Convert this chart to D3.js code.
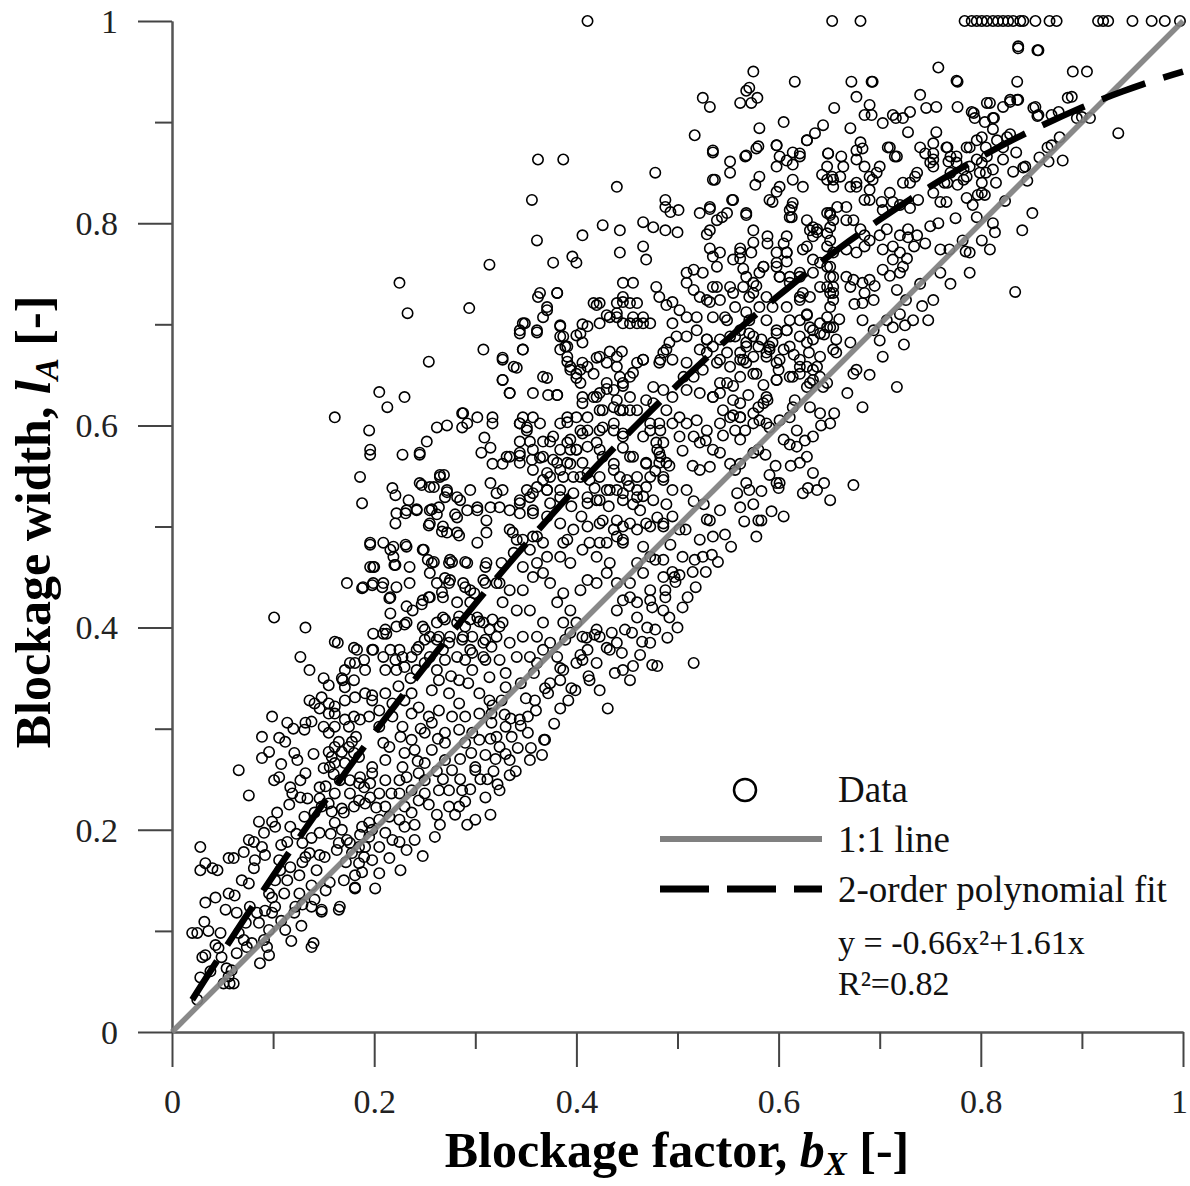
<!DOCTYPE html>
<html>
<head>
<meta charset="utf-8">
<script src="https://cdnjs.cloudflare.com/ajax/libs/d3/7.8.5/d3.min.js"></script>
<style>
  body { margin: 0; background: #fff; }
  svg { display: block; }
  .tick text { font-family: "Liberation Serif", "Times New Roman", serif; }
</style>
</head>
<body>
<div id="chart"></div>
<script>
var lowBand = [
 [0.020,0.098],[0.025,0.098],[0.032,0.109],[0.030,0.074],[0.033,0.076],[0.028,0.054],[0.025,0.032],[0.043,0.086],[0.046,0.083],[0.049,0.074],
 [0.051,0.048],[0.057,0.048],[0.054,0.063],[0.028,0.160],[0.033,0.167],[0.028,0.183],[0.040,0.162],[0.045,0.160],[0.053,0.121],[0.056,0.137],
 [0.062,0.135],[0.033,0.128],[0.043,0.133],[0.076,0.147],[0.071,0.178],[0.056,0.172],[0.061,0.172],[0.076,0.190],[0.081,0.188],[0.082,0.170],
 [0.081,0.162],[0.077,0.124],[0.084,0.118],[0.066,0.098],[0.071,0.091],[0.074,0.084],[0.079,0.088],[0.086,0.108],[0.087,0.068],[0.059,0.061],
 [0.056,0.055],[0.061,0.048],[0.096,0.101],[0.094,0.084],[0.096,0.076],[0.091,0.091],[0.099,0.118],[0.102,0.124],[0.112,0.101],[0.111,0.137],
 [0.114,0.150],[0.102,0.150],[0.099,0.133],[0.096,0.137],[0.106,0.170],[0.107,0.160],[0.117,0.163],[0.129,0.168],[0.126,0.137],[0.122,0.124],
 [0.121,0.118],[0.129,0.126],[0.138,0.124],[0.148,0.119],[0.141,0.131],[0.140,0.088],[0.089,0.183],[0.092,0.175],[0.099,0.208],[0.086,0.208],
 [0.091,0.197],[0.104,0.217],[0.116,0.225],[0.102,0.203],[0.117,0.203],[0.114,0.188],[0.129,0.187],[0.132,0.173],[0.136,0.177],[0.146,0.175],
 [0.138,0.192],[0.119,0.236],[0.134,0.231],[0.131,0.213],[0.146,0.197],[0.141,0.217],[0.148,0.223],[0.076,0.234],[0.066,0.259],[0.089,0.292],
 [0.096,0.277],[0.089,0.271],[0.099,0.312],[0.106,0.291],[0.112,0.287],[0.114,0.306],[0.121,0.276],[0.124,0.269],[0.101,0.249],[0.106,0.252],
 [0.117,0.242],[0.127,0.249],[0.132,0.256],[0.127,0.232],[0.132,0.306],[0.138,0.307],[0.136,0.328],[0.141,0.325],[0.131,0.299],[0.136,0.358],
 [0.127,0.371],[0.132,0.400],[0.101,0.410],[0.150,0.350],[0.155,0.315],[0.146,0.320],[0.146,0.242],[0.146,0.231],[0.150,0.261],[0.156,0.262],
 [0.161,0.266],[0.155,0.277],[0.161,0.282],[0.165,0.287],[0.158,0.272],[0.168,0.277],[0.175,0.282],[0.178,0.287],[0.180,0.276],[0.171,0.266],
 [0.166,0.249],[0.176,0.249],[0.185,0.246],[0.190,0.242],[0.196,0.246],[0.161,0.236],[0.155,0.226],[0.158,0.218],[0.168,0.221],[0.170,0.217],
 [0.180,0.223],[0.185,0.229],[0.191,0.226],[0.196,0.232],[0.161,0.207],[0.168,0.200],[0.173,0.190],[0.165,0.187],[0.163,0.180],[0.176,0.187],
 [0.185,0.183],[0.195,0.193],[0.195,0.207],[0.188,0.203],[0.190,0.173],[0.188,0.158],[0.181,0.155],[0.181,0.142],[0.166,0.124],[0.151,0.173],
 [0.150,0.302],[0.155,0.296],[0.161,0.302],[0.171,0.309],[0.175,0.302],[0.180,0.312],[0.186,0.309],[0.195,0.312],[0.155,0.325],[0.161,0.322],
 [0.171,0.328],[0.181,0.331],[0.191,0.335],[0.198,0.333],[0.180,0.348],[0.171,0.358],[0.168,0.350],[0.161,0.315],[0.185,0.272],[0.186,0.252],
 [0.198,0.262],[0.181,0.365],[0.190,0.368],[0.191,0.358],[0.180,0.380],[0.198,0.378],[0.161,0.386],[0.171,0.341],[0.155,0.343],[0.148,0.331],
 [0.161,0.608],[0.195,0.595],[0.196,0.576],[0.196,0.571],[0.186,0.549],[0.188,0.523],[0.196,0.482],[0.164,0.385],[0.169,0.348],[0.176,0.365],
 [0.183,0.378],[0.199,0.378],[0.199,0.394],[0.189,0.440],[0.199,0.444],[0.173,0.444],[0.199,0.460],[0.196,0.484],[0.196,0.460],[0.188,0.439],
 [0.198,0.442],[0.198,0.328],[0.198,0.256],[0.198,0.200],[0.198,0.170],[0.191,0.183],[0.185,0.167],[0.178,0.177],[0.165,0.121],[0.148,0.121],
 [0.138,0.084],[0.181,0.143],[0.036,0.100],[0.064,0.118],[0.069,0.150],[0.108,0.185],[0.123,0.196],[0.143,0.160],[0.157,0.196],[0.152,0.243]
];

var midBand = [
 [0.225,0.741],[0.233,0.711],[0.294,0.716],[0.254,0.663],[0.205,0.633],[0.230,0.628],[0.213,0.618],[0.228,0.571],[0.245,0.571],[0.252,0.584],
 [0.262,0.598],[0.272,0.600],[0.287,0.598],[0.287,0.612],[0.218,0.538],[0.221,0.531],[0.247,0.541],[0.259,0.539],[0.265,0.551],[0.269,0.551],
 [0.234,0.526],[0.242,0.516],[0.231,0.513],[0.257,0.517],[0.264,0.519],[0.270,0.529],[0.280,0.512],[0.285,0.526],[0.272,0.534],[0.221,0.503],
 [0.254,0.501],[0.267,0.495],[0.284,0.491],[0.200,0.460],[0.216,0.477],[0.231,0.482],[0.221,0.462],[0.249,0.477],[0.259,0.465],[0.277,0.465],
 [0.290,0.465],[0.270,0.449],[0.314,0.759],[0.308,0.675],[0.327,0.667],[0.341,0.657],[0.347,0.675],[0.327,0.645],[0.334,0.632],[0.349,0.701],
 [0.344,0.691],[0.361,0.692],[0.362,0.727],[0.381,0.731],[0.371,0.647],[0.372,0.630],[0.381,0.630],[0.384,0.699],[0.387,0.688],[0.389,0.678],
 [0.391,0.663],[0.371,0.717],[0.347,0.608],[0.357,0.608],[0.344,0.602],[0.351,0.598],[0.288,0.612],[0.302,0.608],[0.292,0.602],[0.317,0.608],
 [0.317,0.602],[0.309,0.588],[0.315,0.578],[0.306,0.573],[0.334,0.569],[0.317,0.562],[0.327,0.562],[0.344,0.584],[0.354,0.584],[0.367,0.584],
 [0.374,0.584],[0.344,0.570],[0.356,0.566],[0.364,0.568],[0.381,0.563],[0.394,0.586],[0.406,0.592],[0.391,0.603],[0.400,0.608],[0.411,0.595],
 [0.420,0.583],[0.394,0.576],[0.400,0.576],[0.384,0.576],[0.394,0.658],[0.404,0.655],[0.400,0.647],[0.411,0.658],[0.406,0.628],[0.420,0.628],
 [0.400,0.689],[0.406,0.682],[0.406,0.700],[0.420,0.719],[0.430,0.709],[0.440,0.711],[0.446,0.722],[0.453,0.701],[0.466,0.707],[0.473,0.701],
 [0.460,0.721],[0.433,0.673],[0.445,0.673],[0.420,0.667],[0.440,0.658],[0.456,0.652],[0.446,0.639],[0.430,0.636],[0.440,0.625],[0.453,0.628],
 [0.466,0.665],[0.483,0.665],[0.486,0.672],[0.476,0.638],[0.469,0.625],[0.486,0.635],[0.426,0.615],[0.443,0.615],[0.437,0.602],[0.453,0.615],
 [0.426,0.598],[0.446,0.592],[0.473,0.602],[0.483,0.595],[0.466,0.589],[0.486,0.583],[0.480,0.576],[0.426,0.569],[0.437,0.562],[0.446,0.578],
 [0.453,0.569],[0.469,0.562],[0.483,0.569],[0.486,0.549],[0.473,0.549],[0.460,0.536],[0.443,0.549],[0.440,0.536],[0.430,0.536],[0.446,0.526],
 [0.463,0.516],[0.480,0.509],[0.486,0.500],[0.469,0.503],[0.453,0.503],[0.440,0.506],[0.426,0.506],[0.420,0.526],[0.413,0.546],[0.411,0.523],
 [0.404,0.549],[0.394,0.562],[0.387,0.549],[0.384,0.536],[0.374,0.549],[0.371,0.536],[0.374,0.523],[0.357,0.516],[0.354,0.529],[0.361,0.539],
 [0.367,0.546],[0.351,0.536],[0.344,0.523],[0.315,0.543],[0.321,0.533],[0.327,0.536],[0.302,0.519],[0.315,0.519],[0.324,0.519],[0.311,0.506],
 [0.311,0.494],[0.334,0.497],[0.341,0.487],[0.338,0.474],[0.347,0.487],[0.354,0.477],[0.361,0.490],[0.367,0.484],[0.371,0.470],[0.361,0.464],
 [0.347,0.460],[0.357,0.450],[0.367,0.454],[0.374,0.444],[0.387,0.484],[0.384,0.470],[0.394,0.464],[0.406,0.477],[0.413,0.484],[0.420,0.470],
 [0.430,0.484],[0.440,0.490],[0.446,0.484],[0.433,0.464],[0.430,0.454],[0.440,0.444],[0.453,0.444],[0.460,0.464],[0.466,0.480],[0.473,0.470],
 [0.486,0.467],[0.466,0.454],[0.473,0.437],[0.446,0.427],[0.453,0.430],[0.420,0.444],[0.411,0.447],[0.404,0.437],[0.387,0.434],[0.381,0.425],
 [0.394,0.417],[0.400,0.405],[0.387,0.405],[0.367,0.405],[0.361,0.391],[0.354,0.417],[0.341,0.417],[0.347,0.437],[0.334,0.437],[0.321,0.444],
 [0.327,0.425],[0.317,0.408],[0.321,0.391],[0.308,0.405],[0.308,0.385],[0.308,0.371],[0.295,0.378],[0.288,0.391],[0.282,0.405],[0.282,0.371],
 [0.268,0.410],[0.275,0.391],[0.268,0.378],[0.255,0.391],[0.255,0.371],[0.242,0.378],[0.242,0.358],[0.228,0.371],[0.222,0.358],[0.216,0.378],
 [0.209,0.371],[0.212,0.394],[0.232,0.405],[0.238,0.417],[0.255,0.430],[0.268,0.430],[0.248,0.427],[0.216,0.414],[0.209,0.394],[0.209,0.444],
 [0.222,0.440],[0.216,0.430],[0.219,0.470],[0.219,0.480],[0.232,0.480],[0.248,0.477],[0.253,0.467],[0.275,0.467],[0.292,0.464],[0.302,0.484],
 [0.311,0.464],[0.308,0.447],[0.295,0.437],[0.275,0.447],[0.272,0.494],[0.268,0.500],[0.282,0.494],[0.255,0.503],[0.222,0.513],[0.232,0.516],
 [0.242,0.517],[0.245,0.543],[0.255,0.539],[0.265,0.549],[0.272,0.536],[0.282,0.529],[0.295,0.536],[0.302,0.516],[0.282,0.509],[0.292,0.516],
 [0.255,0.516],[0.262,0.512],[0.245,0.573],[0.209,0.484],[0.235,0.460],[0.255,0.454],[0.262,0.444],[0.288,0.444],[0.295,0.425],[0.302,0.410],
 [0.282,0.425],[0.235,0.444],[0.232,0.421],[0.222,0.401],[0.248,0.401],[0.262,0.405],[0.262,0.388],[0.295,0.408],[0.327,0.405],[0.334,0.385],
 [0.347,0.391],[0.341,0.371],[0.354,0.371],[0.361,0.365],[0.367,0.378],[0.374,0.385],[0.381,0.371],[0.387,0.358],[0.384,0.348],[0.374,0.345],
 [0.394,0.395],[0.406,0.391],[0.406,0.368],[0.420,0.398],[0.423,0.391],[0.411,0.378],[0.400,0.365],[0.446,0.358],[0.473,0.385],[0.480,0.362],
 [0.440,0.417],[0.460,0.425],[0.486,0.450],[0.486,0.417],[0.220,0.462],[0.257,0.464],[0.274,0.464],[0.310,0.460],[0.326,0.464],[0.208,0.440],
 [0.215,0.429],[0.211,0.398],[0.230,0.403],[0.247,0.423],[0.254,0.430],[0.267,0.435],[0.274,0.444],[0.290,0.440],[0.299,0.434],[0.310,0.444],
 [0.324,0.444],[0.270,0.408],[0.284,0.411],[0.290,0.401],[0.304,0.406],[0.314,0.398],[0.324,0.401],[0.250,0.398],[0.250,0.388],[0.244,0.381],
 [0.264,0.391],[0.274,0.385],[0.287,0.388],[0.297,0.391],[0.310,0.388],[0.316,0.381],[0.297,0.375],[0.225,0.378],[0.237,0.371],[0.221,0.368],
 [0.211,0.358],[0.230,0.361],[0.250,0.365],[0.270,0.368],[0.290,0.368],[0.310,0.368],[0.324,0.368],[0.330,0.355],[0.314,0.351],[0.297,0.358],
 [0.284,0.348],[0.264,0.348],[0.257,0.338],[0.274,0.335],[0.284,0.325],[0.304,0.335],[0.314,0.328],[0.326,0.328],[0.330,0.341],[0.316,0.315],
 [0.304,0.315],[0.290,0.312],[0.277,0.312],[0.264,0.318],[0.254,0.312],[0.237,0.315],[0.230,0.328],[0.237,0.335],[0.244,0.321],[0.211,0.335],
 [0.218,0.325],[0.205,0.318],[0.218,0.312],[0.205,0.302],[0.228,0.302],[0.237,0.289],[0.250,0.296],[0.257,0.306],[0.270,0.296],[0.284,0.299],
 [0.297,0.296],[0.316,0.306],[0.330,0.302],[0.324,0.282],[0.304,0.289],[0.290,0.286],[0.270,0.286],[0.257,0.279],[0.240,0.279],[0.230,0.276],
 [0.215,0.282],[0.211,0.269],[0.228,0.262],[0.225,0.249],[0.244,0.256],[0.250,0.266],[0.270,0.269],[0.277,0.259],[0.250,0.249],[0.237,0.239],
 [0.250,0.236],[0.264,0.239],[0.274,0.239],[0.284,0.223],[0.274,0.223],[0.260,0.193],[0.240,0.190],[0.225,0.188],[0.244,0.229],[0.230,0.223],
 [0.211,0.223],[0.205,0.236],[0.211,0.249],[0.225,0.236],[0.215,0.213],[0.225,0.210],[0.237,0.217],[0.230,0.203],[0.205,0.210],[0.211,0.197],
 [0.218,0.190],[0.205,0.183],[0.205,0.157],[0.201,0.142],[0.300,0.262],[0.305,0.250],[0.318,0.258],[0.295,0.240],[0.310,0.232],[0.322,0.245],
 [0.330,0.275],[0.340,0.258],[0.290,0.228],[0.280,0.215],[0.300,0.210],[0.315,0.290],[0.335,0.310],[0.366,0.274],[0.368,0.289],[0.355,0.281],
 [0.345,0.303],[0.334,0.269],[0.352,0.296],[0.384,0.320],[0.431,0.320],[0.360,0.318],[0.372,0.335],[0.350,0.330],[0.395,0.340],[0.412,0.352],
 [0.345,0.345],[0.358,0.355],[0.420,0.365],[0.430,0.380],[0.445,0.375],[0.455,0.395],[0.470,0.400],[0.475,0.420],[0.460,0.410],[0.440,0.385],
 [0.435,0.395],[0.410,0.390],[0.497,0.450],[0.488,0.430],[0.495,0.455],[0.490,0.390],[0.475,0.363],[0.320,0.270],[0.285,0.250],[0.262,0.215],
 [0.240,0.205],[0.226,0.160],[0.215,0.172],[0.232,0.180],[0.248,0.174],[0.265,0.205],[0.292,0.205],[0.312,0.250]
];

// second pass over the densest parts of the cloud
var denseCore = [
 [0.317,0.323],[0.329,0.314],[0.344,0.309],[0.359,0.328],[0.369,0.340],[0.342,0.281],[0.354,0.269],[0.369,0.289],[0.310,0.274],[0.300,0.259],
 [0.287,0.239],[0.324,0.239],[0.334,0.254],[0.315,0.215],[0.389,0.388],[0.404,0.373],[0.418,0.393],[0.433,0.378],[0.448,0.398],[0.413,0.348],
 [0.399,0.338],[0.384,0.360],[0.463,0.373],[0.453,0.348],[0.473,0.427],[0.488,0.437],[0.502,0.452],[0.517,0.467],[0.522,0.487],[0.508,0.497],
 [0.493,0.482],[0.478,0.467],[0.532,0.506],[0.542,0.516],[0.547,0.492],[0.534,0.472],[0.567,0.595],[0.587,0.571],[0.557,0.556],[0.571,0.536],
 [0.591,0.551],[0.611,0.581],[0.601,0.605],[0.616,0.625],[0.262,0.358],[0.276,0.352],[0.293,0.345],[0.236,0.350],[0.224,0.342],[0.246,0.300],
 [0.263,0.290],[0.226,0.292],[0.209,0.286],[0.243,0.268],[0.262,0.258],[0.285,0.270],[0.296,0.276],[0.321,0.292],[0.336,0.292],[0.352,0.312],
 [0.378,0.305],[0.392,0.328],[0.423,0.338],[0.438,0.355],[0.456,0.362],[0.465,0.386],[0.478,0.398],[0.492,0.410],[0.505,0.420],[0.518,0.440],
 [0.528,0.455],[0.540,0.465],[0.553,0.480],[0.566,0.505],[0.575,0.522],[0.583,0.535],[0.597,0.560],[0.612,0.560],[0.626,0.585],[0.642,0.600],
 [0.655,0.612],[0.668,0.632],[0.690,0.650],[0.703,0.668],[0.724,0.680],[0.742,0.718],[0.770,0.740],[0.785,0.772],[0.812,0.800],[0.824,0.822],
 [0.846,0.842],[0.858,0.865],[0.878,0.885],[0.900,0.905],[0.138,0.145],[0.126,0.155],[0.156,0.148],[0.172,0.168],[0.186,0.195],[0.202,0.222],
 [0.217,0.236],[0.232,0.252],[0.254,0.225],[0.268,0.250],[0.092,0.120],[0.108,0.110],[0.073,0.108],[0.064,0.078],[0.048,0.098],[0.038,0.060],
 [0.118,0.090],[0.128,0.105],[0.152,0.140],[0.170,0.150],[0.176,0.236],[0.160,0.255],[0.140,0.275],[0.120,0.300],[0.108,0.265],[0.182,0.292],
 [0.395,0.520],[0.405,0.510],[0.418,0.538],[0.432,0.520],[0.452,0.540],[0.466,0.530],[0.478,0.555],[0.492,0.560],[0.505,0.575],[0.515,0.560],
 [0.528,0.585],[0.545,0.590],[0.555,0.610],[0.570,0.630],[0.585,0.640],[0.600,0.655],[0.615,0.670],[0.630,0.672],[0.645,0.690],[0.660,0.705],
 [0.675,0.720],[0.695,0.738],[0.710,0.748],[0.727,0.765],[0.745,0.780],[0.758,0.800],[0.775,0.805],[0.792,0.818],[0.815,0.840],[0.835,0.870]
];

var upperBand = [
 [0.362,0.863],[0.387,0.863],[0.356,0.823],[0.361,0.783],[0.440,0.836],[0.478,0.850],[0.517,0.887],[0.535,0.870],[0.552,0.861],[0.552,0.850],
 [0.535,0.843],[0.568,0.867],[0.578,0.874],[0.598,0.877],[0.614,0.870],[0.621,0.869],[0.614,0.858],[0.614,0.843],[0.577,0.838],[0.628,0.882],
 [0.649,0.869],[0.643,0.848],[0.654,0.843],[0.598,0.831],[0.594,0.821],[0.613,0.816],[0.613,0.806],[0.554,0.823],[0.568,0.808],[0.532,0.814],
 [0.522,0.810],[0.544,0.806],[0.488,0.823],[0.488,0.816],[0.493,0.811],[0.501,0.813],[0.466,0.801],[0.476,0.796],[0.488,0.793],[0.500,0.791],
 [0.426,0.798],[0.443,0.793],[0.406,0.788],[0.529,0.789],[0.532,0.775],[0.535,0.767],[0.539,0.757],[0.562,0.775],[0.562,0.765],[0.568,0.747],
 [0.575,0.781],[0.589,0.780],[0.585,0.757],[0.608,0.771],[0.608,0.762],[0.598,0.761],[0.628,0.777],[0.638,0.791],[0.634,0.796],[0.651,0.796],
 [0.651,0.808],[0.651,0.783],[0.641,0.761],[0.651,0.757],[0.601,0.747],[0.611,0.747],[0.621,0.747],[0.634,0.751],[0.651,0.747],[0.654,0.737],
 [0.651,0.731],[0.641,0.737],[0.621,0.727],[0.631,0.727],[0.651,0.717],[0.648,0.707],[0.628,0.709],[0.641,0.701],[0.651,0.697],[0.634,0.694],
 [0.621,0.688],[0.611,0.704],[0.598,0.694],[0.608,0.694],[0.605,0.675],[0.611,0.678],[0.628,0.682],[0.641,0.668],[0.654,0.675],[0.621,0.665],
 [0.621,0.658],[0.634,0.655],[0.641,0.648],[0.648,0.642],[0.631,0.642],[0.614,0.648],[0.598,0.645],[0.594,0.682],[0.580,0.678],[0.583,0.685],
 [0.575,0.688],[0.568,0.682],[0.562,0.694],[0.557,0.688],[0.547,0.707],[0.557,0.717],[0.568,0.712],[0.571,0.727],[0.578,0.738],[0.588,0.727],
 [0.552,0.737],[0.539,0.737],[0.532,0.722],[0.522,0.727],[0.516,0.734],[0.509,0.741],[0.509,0.751],[0.516,0.754],[0.509,0.707],[0.519,0.707],
 [0.502,0.714],[0.495,0.701],[0.495,0.722],[0.489,0.719],[0.482,0.727],[0.479,0.737],[0.509,0.688],[0.519,0.694],[0.529,0.685],[0.535,0.678],
 [0.549,0.672],[0.562,0.665],[0.568,0.662],[0.575,0.668],[0.588,0.668],[0.591,0.675],[0.562,0.648],[0.578,0.651],[0.598,0.662],[0.516,0.648],
 [0.525,0.655],[0.539,0.662],[0.549,0.642],[0.542,0.632],[0.535,0.628],[0.522,0.632],[0.509,0.635],[0.506,0.648],[0.495,0.665],[0.489,0.675],
 [0.482,0.662],[0.492,0.682],[0.499,0.688],[0.509,0.662],[0.522,0.675],[0.466,0.665],[0.460,0.662],[0.453,0.648],[0.446,0.642],[0.443,0.648],
 [0.437,0.635],[0.430,0.642],[0.423,0.632],[0.417,0.628],[0.406,0.622],[0.404,0.642],[0.417,0.651],[0.430,0.662],[0.440,0.668],[0.423,0.668],
 [0.406,0.662],[0.400,0.651],[0.394,0.655],[0.391,0.668],[0.384,0.688],[0.384,0.675],[0.404,0.691],[0.411,0.698],[0.423,0.701],[0.433,0.707],
 [0.440,0.707],[0.446,0.701],[0.460,0.701],[0.466,0.701],[0.456,0.707],[0.423,0.721],[0.417,0.721],[0.440,0.721],[0.446,0.727],[0.453,0.721],
 [0.446,0.741],[0.456,0.741],[0.466,0.777],[0.469,0.764],[0.443,0.771],[0.396,0.767],[0.377,0.761],[0.400,0.761],[0.381,0.731],[0.364,0.731],
 [0.371,0.714],[0.367,0.707],[0.347,0.701],[0.361,0.694],[0.344,0.694],[0.347,0.675],[0.384,0.698],[0.391,0.678],[0.367,0.648],[0.357,0.632],
 [0.381,0.630],[0.334,0.632],[0.327,0.645],[0.338,0.658],[0.327,0.665],[0.344,0.602],[0.351,0.595],[0.364,0.602],[0.384,0.602],[0.391,0.608],
 [0.377,0.589],[0.391,0.583],[0.404,0.595],[0.411,0.608],[0.423,0.615],[0.437,0.618],[0.446,0.615],[0.460,0.615],[0.476,0.622],[0.489,0.615],
 [0.495,0.628],[0.502,0.608],[0.509,0.602],[0.519,0.605],[0.529,0.595],[0.542,0.602],[0.552,0.608],[0.562,0.608],[0.557,0.595],[0.575,0.602],
 [0.588,0.602],[0.588,0.628],[0.580,0.618],[0.562,0.622],[0.611,0.608],[0.618,0.595],[0.634,0.589],[0.628,0.569],[0.634,0.553],[0.645,0.543],
 [0.651,0.526],[0.624,0.533],[0.601,0.543],[0.605,0.586],[0.562,0.586],[0.542,0.573],[0.552,0.562],[0.562,0.562],[0.575,0.573],[0.580,0.576],
 [0.568,0.543],[0.559,0.533],[0.562,0.519],[0.580,0.506],[0.578,0.490],[0.535,0.490],[0.529,0.507],[0.526,0.522],[0.516,0.525],[0.509,0.536],
 [0.522,0.556],[0.532,0.559],[0.535,0.576],[0.522,0.583],[0.516,0.589],[0.502,0.589],[0.495,0.602],[0.482,0.602],[0.473,0.595],[0.479,0.583],
 [0.482,0.573],[0.482,0.563],[0.489,0.563],[0.469,0.563],[0.456,0.569],[0.446,0.589],[0.437,0.595],[0.423,0.595],[0.423,0.576],[0.411,0.579],
 [0.400,0.576],[0.406,0.563],[0.391,0.563],[0.377,0.566],[0.367,0.569],[0.357,0.576],[0.344,0.573],[0.331,0.569],[0.344,0.563],[0.357,0.556],
 [0.371,0.553],[0.384,0.556],[0.397,0.549],[0.411,0.553],[0.423,0.549],[0.437,0.556],[0.450,0.546],[0.460,0.549],[0.469,0.539],[0.486,0.546],
 [0.495,0.536],[0.489,0.522],[0.476,0.526],[0.460,0.529],[0.456,0.522],[0.446,0.533],[0.433,0.536],[0.423,0.526],[0.411,0.529],[0.397,0.533],
 [0.384,0.529],[0.371,0.536],[0.357,0.533],[0.344,0.526],[0.334,0.516],[0.344,0.513],[0.357,0.513],[0.371,0.510],[0.384,0.503],[0.397,0.497],
 [0.411,0.500],[0.423,0.503],[0.437,0.497],[0.446,0.500],[0.460,0.497],[0.473,0.500],[0.486,0.503],[0.495,0.510],[0.502,0.497],[0.337,0.494],
 [0.357,0.490],[0.391,0.487],[0.423,0.484],[0.446,0.487],[0.505,0.470],[0.515,0.455],[0.525,0.470],[0.498,0.445],[0.510,0.430],[0.500,0.400],
 [0.516,0.365],[0.631,0.618],[0.614,0.618],[0.641,0.612],[0.651,0.602],[0.618,0.579],[0.621,0.563],[0.598,0.543],[0.638,0.536],[0.583,0.506],
 [0.593,0.515],[0.605,0.510],[0.629,0.538],[0.674,0.541],[0.600,0.538],
 [0.575,0.950],[0.616,0.940],[0.568,0.931],[0.571,0.934],[0.562,0.919],[0.573,0.919],[0.579,0.924],[0.525,0.924],[0.532,0.915],[0.672,0.940],
 [0.692,0.940],[0.677,0.925],[0.758,0.954],[0.777,0.940],[0.836,0.940],[0.837,0.975],[0.856,0.971],[0.740,0.927],[0.655,0.914],[0.690,0.917],
 [0.692,0.907],[0.685,0.907],[0.703,0.899],[0.716,0.904],[0.723,0.904],[0.730,0.910],[0.728,0.890],[0.746,0.914],[0.756,0.915],[0.777,0.915],
 [0.791,0.910],[0.794,0.904],[0.806,0.919],[0.812,0.904],[0.822,0.915],[0.829,0.920],[0.837,0.922],[0.852,0.914],[0.856,0.906],[0.581,0.894],
 [0.605,0.900],[0.644,0.897],[0.636,0.889],[0.628,0.882],[0.671,0.894],[0.598,0.877],[0.580,0.876],[0.535,0.872],[0.567,0.866],[0.537,0.843],
 [0.649,0.869],[0.662,0.866],[0.677,0.872],[0.683,0.874],[0.708,0.875],[0.715,0.866],[0.685,0.856],[0.700,0.856],[0.690,0.846],[0.690,0.833],
 [0.690,0.823],[0.685,0.823],[0.702,0.821],[0.703,0.813],[0.648,0.843],[0.653,0.846],[0.661,0.846],[0.671,0.836],[0.677,0.840],[0.654,0.836],
 [0.664,0.856],[0.648,0.856],[0.723,0.840],[0.730,0.840],[0.735,0.846],[0.738,0.823],[0.730,0.815],[0.720,0.818],[0.713,0.821],[0.760,0.821],
 [0.766,0.821],[0.764,0.840],[0.777,0.838],[0.786,0.846],[0.801,0.840],[0.805,0.850],[0.786,0.825],[0.797,0.828],[0.804,0.828],[0.832,0.851],
 [0.844,0.856],[0.750,0.860],[0.753,0.869],[0.753,0.879],[0.766,0.875],[0.768,0.861],[0.776,0.866],[0.783,0.853],[0.789,0.875],[0.796,0.882],
 [0.801,0.885],[0.805,0.875],[0.816,0.882],[0.822,0.875],[0.829,0.888],[0.804,0.900],[0.812,0.893],[0.745,0.869],[0.740,0.875],[0.756,0.890],
 [0.796,0.806],[0.801,0.783],[0.809,0.774],[0.789,0.771],[0.789,0.751],[0.834,0.732],[0.841,0.793],[0.851,0.810],[0.782,0.783],[0.769,0.774],
 [0.760,0.774],[0.760,0.751],[0.753,0.724],[0.750,0.797],[0.737,0.788],[0.728,0.794],[0.720,0.788],[0.707,0.794],[0.700,0.788],[0.690,0.783],
 [0.685,0.788],[0.681,0.794],[0.674,0.803],[0.667,0.803],[0.654,0.803],[0.651,0.810],[0.658,0.816],[0.648,0.790],[0.638,0.794],[0.634,0.787],
 [0.624,0.774],[0.648,0.777],[0.654,0.771],[0.667,0.774],[0.677,0.771],[0.685,0.777],[0.703,0.774],[0.713,0.777],[0.728,0.786],[0.734,0.777],
 [0.720,0.771],[0.713,0.764],[0.723,0.757],[0.720,0.751],[0.703,0.754],[0.690,0.744],[0.683,0.741],[0.674,0.744],[0.667,0.747],[0.671,0.737],
 [0.685,0.731],[0.694,0.724],[0.683,0.721],[0.654,0.747],[0.648,0.737],[0.654,0.731],[0.654,0.724],[0.648,0.757],[0.634,0.764],[0.621,0.751],
 [0.624,0.731],[0.621,0.724],[0.611,0.741],[0.601,0.747],[0.598,0.757],[0.581,0.751],[0.575,0.741],[0.565,0.755],[0.555,0.764],[0.542,0.771],
 [0.562,0.771],[0.573,0.771],[0.598,0.771],[0.608,0.771],[0.605,0.780],[0.608,0.787],[0.585,0.757],[0.628,0.803],[0.631,0.793],[0.648,0.810],
 [0.667,0.816],[0.614,0.820],[0.611,0.813],[0.611,0.806],[0.591,0.823],[0.601,0.836],[0.555,0.823],[0.549,0.810],[0.532,0.816],[0.532,0.793],
 [0.568,0.810],[0.575,0.793],[0.589,0.787],[0.539,0.803],[0.624,0.836],[0.608,0.862],[0.621,0.866],[0.601,0.866],[0.581,0.846],[0.598,0.856],
 [0.525,0.751],[0.535,0.737],[0.529,0.724],[0.542,0.724],[0.555,0.731],[0.535,0.707],[0.549,0.704],[0.552,0.688],[0.542,0.685],[0.529,0.685],
 [0.529,0.672],[0.542,0.665],[0.552,0.658],[0.562,0.672],[0.568,0.678],[0.565,0.665],[0.575,0.651],[0.555,0.639],[0.542,0.642],[0.535,0.628],
 [0.545,0.615],[0.555,0.625],[0.562,0.608],[0.575,0.612],[0.585,0.622],[0.581,0.605],[0.591,0.598],[0.589,0.625],[0.598,0.645],[0.611,0.648],
 [0.621,0.651],[0.628,0.658],[0.628,0.638],[0.634,0.645],[0.644,0.638],[0.601,0.665],[0.588,0.672],[0.591,0.678],[0.571,0.691],[0.571,0.704],
 [0.588,0.704],[0.598,0.691],[0.608,0.694],[0.621,0.704],[0.631,0.697],[0.641,0.691],[0.648,0.697],[0.634,0.685],[0.628,0.710],[0.608,0.717],
 [0.594,0.717],[0.581,0.717],[0.575,0.731],[0.565,0.737],[0.654,0.697],[0.657,0.672],[0.671,0.682],[0.674,0.651],[0.677,0.655],[0.657,0.685],
 [0.683,0.704],[0.694,0.694],[0.707,0.704],[0.713,0.697],[0.720,0.710],[0.733,0.704],[0.726,0.724],[0.717,0.638],[0.683,0.618],[0.638,0.658],
 [0.700,0.684],[0.725,0.699],[0.748,0.704],[0.740,0.740],[0.717,0.734],
 [0.837,0.973],[0.857,0.971],[0.891,0.950],[0.905,0.950],[0.776,0.941],[0.693,0.940],[0.886,0.924],[0.890,0.925],[0.936,0.889],[0.870,0.877],
 [0.867,0.861],[0.842,0.855],[0.895,0.904],[0.908,0.904],[0.854,0.915],[0.857,0.907],[0.870,0.907],[0.877,0.910],[0.829,0.922],[0.836,0.922],
 [0.809,0.919],[0.813,0.904],[0.793,0.909],[0.713,0.907],[0.710,0.875],[0.717,0.866],[0.681,0.880],[0.677,0.863],[0.697,0.850],[0.767,0.875],
 [0.770,0.866],[0.826,0.885],[0.786,0.875],[0.796,0.863],[0.806,0.866],[0.822,0.863],[0.801,0.860],[0.789,0.856],[0.776,0.860],[0.753,0.863],
 [0.753,0.856],[0.770,0.850],[0.783,0.843],[0.799,0.850],[0.812,0.853],[0.801,0.830],[0.767,0.840],[0.753,0.830],[0.737,0.850],[0.693,0.843],
 [0.677,0.836],[0.710,0.830],[0.866,0.875],[0.881,0.862],[0.814,0.791]
];

var topRow = [0.411,0.653,0.681,0.784,0.791,0.796,0.801,0.806,0.812,0.817,0.822,0.827,0.832,0.839,0.842,0.854,0.868,0.875,0.916,0.921,0.926,0.950,0.969,0.982,0.997];

var fitCoef = [-0.66, 1.61];   // y = a x^2 + b x
var fitRange = [0.02, 1];
var majorTicks = [0, 0.2, 0.4, 0.6, 0.8, 1];
var minorTicks = [0.1, 0.3, 0.5, 0.7, 0.9];
var legendItems = ["Data", "1:1 line", "2-order polynomial fit"];
var fitNote = ["y = -0.66x\u00b2+1.61x", "R\u00b2=0.82"];

var serif = "'Liberation Serif', 'Times New Roman', serif";
var w = 1190, h = 1186;

var points = lowBand.concat(midBand, denseCore, upperBand, topRow.map(function(d){ return [d, 1]; }));

var svg = d3.select("#chart").append("svg")
  .attr("width", w)
  .attr("height", h);

var x = d3.scaleLinear().domain([0, 1]).range([172, 1183]);
var y = d3.scaleLinear().domain([0, 1]).range([1032, 21]);

var fmt = function(d){ return (d === 0 || d === 1) ? String(d) : d.toFixed(1); };

// axes
var xAxis = svg.append("g").attr("transform", "translate(0,1032)")
  .call(d3.axisBottom(x).tickValues(majorTicks).tickSize(35).tickSizeOuter(0).tickFormat(fmt));
svg.append("g").attr("transform", "translate(0,1032)")
  .call(d3.axisBottom(x).tickValues(minorTicks).tickSize(17).tickSizeOuter(0).tickFormat(""));
var yAxis = svg.append("g").attr("transform", "translate(172,0)")
  .call(d3.axisLeft(y).tickValues(majorTicks).tickSize(34).tickSizeOuter(0).tickFormat(fmt));
svg.append("g").attr("transform", "translate(172,0)")
  .call(d3.axisLeft(y).tickValues(minorTicks).tickSize(17).tickSizeOuter(0).tickFormat(""));

svg.selectAll(".domain").attr("stroke", "#555").attr("stroke-width", 2);
svg.selectAll(".tick line").attr("stroke", "#444").attr("stroke-width", 2);

xAxis.selectAll(".tick text")
  .attr("y", 81).attr("dy", 0)
  .attr("x", function(d){ return d === 1 ? -4 : 0; })
  .attr("font-size", 34).attr("fill", "#222");
yAxis.selectAll(".tick text")
  .attr("x", -54).attr("dy", "0.33em")
  .attr("font-size", 34).attr("fill", "#222");

// data circles
svg.append("g").selectAll("circle")
  .data(points)
  .enter()
  .append("circle")
  .attr("cx", function(d){ return x(d[0]); })
  .attr("cy", function(d){ return y(d[1]); })
  .attr("r", 5.2)
  .attr("fill", "none")
  .attr("stroke", "#000")
  .attr("stroke-width", 1.6);

// 1:1 line
svg.append("line")
  .attr("x1", x(0)).attr("y1", y(0))
  .attr("x2", x(1)).attr("y2", y(1))
  .attr("stroke", "#808080")
  .attr("stroke-width", 5.5)
  .attr("opacity", 0.92);

// polynomial fit
var fitX = d3.range(fitRange[0], fitRange[1] + 0.0001, 0.01);
var fitLine = d3.line()
  .x(function(d){ return x(d); })
  .y(function(d){ return y(fitCoef[0] * d * d + fitCoef[1] * d); });
svg.append("path")
  .datum(fitX)
  .attr("d", fitLine)
  .attr("fill", "none")
  .attr("stroke", "#000")
  .attr("stroke-width", 6.5)
  .attr("stroke-dasharray", "46,19");

// legend
var lg = svg.append("g").attr("font-family", serif).attr("font-size", 37).attr("fill", "#111");
lg.append("circle").attr("cx", 745).attr("cy", 790).attr("r", 11)
  .attr("fill", "none").attr("stroke", "#000").attr("stroke-width", 2.5);
lg.append("line").attr("x1", 660).attr("x2", 822).attr("y1", 839).attr("y2", 839)
  .attr("stroke", "#808080").attr("stroke-width", 6);
lg.append("line").attr("x1", 660).attr("x2", 822).attr("y1", 889).attr("y2", 889)
  .attr("stroke", "#000").attr("stroke-width", 7).attr("stroke-dasharray", "49,18");
lg.selectAll("text.item")
  .data(legendItems)
  .enter()
  .append("text")
  .attr("class", "item")
  .attr("x", 838)
  .attr("y", function(d, i){ return 802 + i * 50; })
  .text(function(d){ return d; });
lg.selectAll("text.note")
  .data(fitNote)
  .enter()
  .append("text")
  .attr("class", "note")
  .attr("x", 838)
  .attr("font-size", 34)
  .attr("y", function(d, i){ return 954 + i * 41; })
  .text(function(d){ return d; });

// axis titles
var xt = svg.append("text")
  .attr("x", 677).attr("y", 1167)
  .attr("text-anchor", "middle")
  .attr("font-family", serif).attr("font-size", 50).attr("font-weight", "bold");
xt.append("tspan").text("Blockage factor, ");
xt.append("tspan").attr("font-style", "italic").text("b");
xt.append("tspan").attr("font-style", "italic").attr("font-size", 33).attr("dy", 8).text("X");
xt.append("tspan").attr("dy", -8).text(" [-]");

var yt = svg.append("text")
  .attr("transform", "translate(50,522) rotate(-90)")
  .attr("text-anchor", "middle")
  .attr("font-family", serif).attr("font-size", 50).attr("font-weight", "bold");
yt.append("tspan").text("Blockage width, ");
yt.append("tspan").attr("font-style", "italic").text("l");
yt.append("tspan").attr("font-style", "italic").attr("font-size", 33).attr("dy", 8).text("A");
yt.append("tspan").attr("dy", -8).text(" [-]");
</script>
</body>
</html>
